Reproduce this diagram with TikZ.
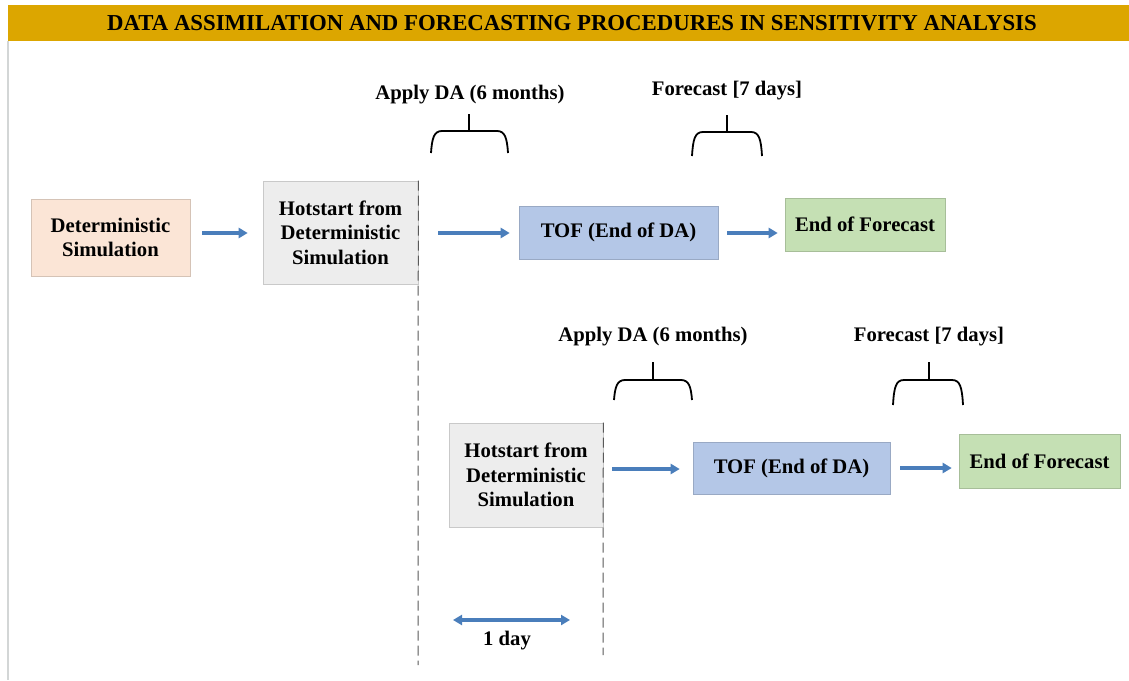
\documentclass[tikz,border=0pt]{standalone}
\usepackage{fontspec}
\setmainfont{Liberation Serif}
\usetikzlibrary{arrows.meta,calc}

\definecolor{titlebar}{HTML}{DCA600}
\definecolor{frameline}{HTML}{D3D6D6}
\definecolor{peach}{HTML}{FBE5D6}
\definecolor{hotgray}{HTML}{EDEDED}
\definecolor{tofblue}{HTML}{B4C7E7}
\definecolor{endgreen}{HTML}{C5E0B4}
\definecolor{flowblue}{HTML}{4A7EBB}

% bracket over a time span: tick centre x, tick top, bar y, left x, right x, foot y
\newcommand\spanbracket[6]{%
  \draw[bracketline] (#1,#2) -- (#1,#3);
  \draw[bracketline] (#4,#6) .. controls ({#4+1},{#3+7}) and ({#4+3},#3) .. ({#4+11},#3)
    -- ({#5-11},#3) .. controls ({#5-3},#3) and ({#5-1},{#3+7}) .. (#5,#6);
}

\begin{document}
\begin{tikzpicture}[x=1pt,y=-1pt,
  txt/.style={font=\bfseries\fontsize{20.7}{24.5}\selectfont, align=center, inner sep=0pt},
  box/.style={txt, draw=#1!85!black, line width=0.6pt, fill=#1, anchor=center},
  flow/.style={draw=flowblue, line width=3.6pt, -{Triangle[length=9pt,width=10pt]}},
  both/.style={draw=flowblue, line width=3.6pt, {Triangle[length=9pt,width=10pt]}-{Triangle[length=9pt,width=10pt]}},
  marker/.style={draw=black!65, line width=1pt, dash pattern=on 10pt off 5pt},
  bracketline/.style={draw=black, line width=1.8pt},
]
\useasboundingbox (0,0) rectangle (1129,680);
\fill[white] (0,0) rectangle (1129,680);

% title band and frame
\fill[titlebar] (8,5) rectangle (1129,41);
\draw[frameline, line width=2pt] (8,41) -- (8,680);
\node[font=\bfseries\fontsize{22.8}{26}\selectfont, inner sep=0pt] (title) at (572,23)
  {DATA ASSIMILATION AND FORECASTING PROCEDURES IN SENSITIVITY ANALYSIS};

% first run
\node[box=peach, minimum width=159pt, minimum height=77pt] (det) at (110.5,237.5)
  {Deterministic\\Simulation};
\node[box=hotgray, minimum width=155pt, minimum height=103pt] (hotA) at (340.5,232.5)
  {Hotstart from\\Deterministic\\Simulation};
\node[box=tofblue, minimum width=199pt, minimum height=53pt] (tofA) at (618.5,232.5)
  {TOF (End of DA)};
\node[box=endgreen, minimum width=160pt, minimum height=53pt] (endA) at (865,224.5)
  {End of Forecast};

\draw[flow] ([xshift=12]det.east |- 0,233) -- ([xshift=-15]hotA.west |- 0,233);
\draw[flow] ([xshift=20]hotA.east |- 0,233) -- ([xshift=-9]tofA.west |- 0,233);
\draw[flow] ([xshift=9]tofA.east |- 0,233) -- ([xshift=-7]endA.west |- 0,233);

\node[txt] (daA) at (470,95) {Apply DA (6 months)};
\node[txt] (fcA) at (727,91) {Forecast [7 days]};
\spanbracket{469}{114}{131}{431}{508}{153}
\spanbracket{727}{115}{132}{692}{762}{156}

% second run, started one day later
\node[box=hotgray, minimum width=154pt, minimum height=104pt] (hotB) at (526,475)
  {Hotstart from\\Deterministic\\Simulation};
\node[box=tofblue, minimum width=197pt, minimum height=52pt] (tofB) at (791.5,468)
  {TOF (End of DA)};
\node[box=endgreen, minimum width=161pt, minimum height=54pt] (endB) at (1039.5,461)
  {End of Forecast};

\draw[flow] ([xshift=9]hotB.east |- 0,469) -- ([xshift=-13]tofB.west |- 0,469);
\draw[flow] ([xshift=10]tofB.east |- 0,468) -- ([xshift=-7]endB.west |- 0,468);

\node[txt] (daB) at (653,337) {Apply DA (6 months)};
\node[txt] (fcB) at (929,337) {Forecast [7 days]};
\spanbracket{653}{362}{380}{614}{692}{400}
\spanbracket{929}{362}{380}{893}{963}{405}

% start markers and the one-day offset
\coordinate (markA) at (418,665);
\coordinate (markB) at (603,655);
\draw[marker] (hotA.north east) -- (markA);
\draw[marker] (hotB.north east) -- (markB);

\coordinate (dayL) at (453,620);
\coordinate (dayR) at (570,620);
\draw[both] (dayL) -- (dayR);
\node[txt] (day) at (507,641) {1 day};
\end{tikzpicture}
\end{document}
